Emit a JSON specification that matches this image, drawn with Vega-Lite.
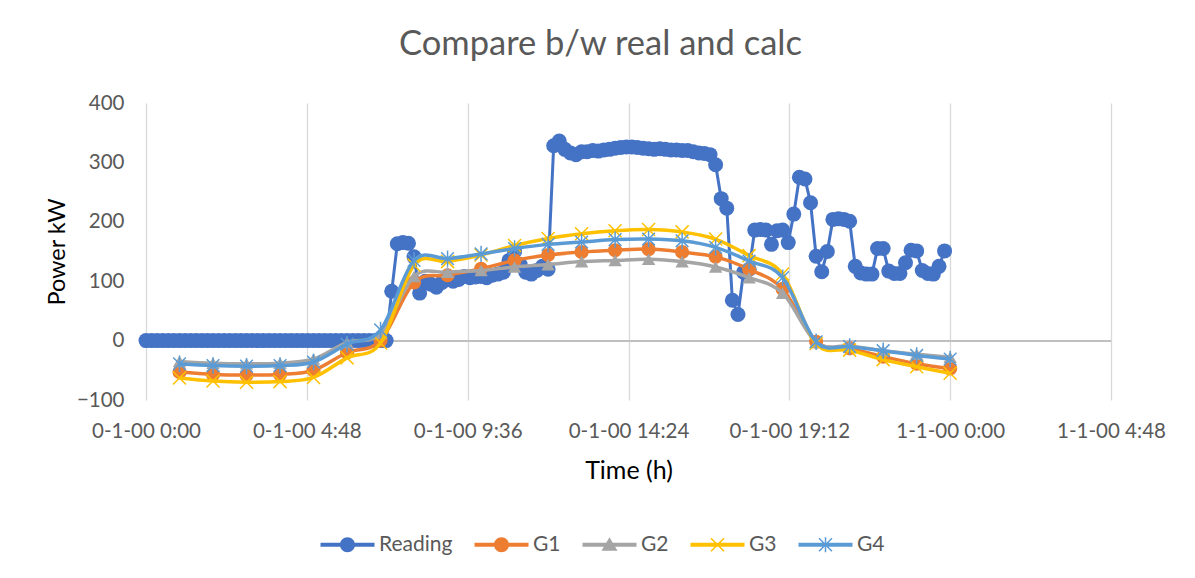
{
  "$schema": "https://vega.github.io/schema/vega-lite/v6.json",
  "width": 965,
  "height": 297,
  "autosize": "none",
  "padding": {"left": 146, "top": 103, "right": 84, "bottom": 178},
  "background": "white",
  "title": {"text": "Compare b/w real and calc", "fontSize": 34.5, "font": "Lato", "fontWeight": "normal", "color": "#595959", "anchor": "middle", "dx": -28, "offset": 4, "baseline": "alphabetic"},
  "config": {
    "view": {"stroke": null},
    "axis": {"labelFont": "Lato", "labelFontSize": 20.5, "labelColor": "#595959", "titleFont": "Lato", "titleColor": "#000000", "titleFontWeight": "normal", "gridColor": "#d9d9d9", "gridWidth": 1.3, "domain": false, "ticks": false, "tickSize": 0},
    "axisX": {"labelPadding": 21, "titlePadding": 17, "titleFontSize": 25},
    "axisY": {"labelPadding": 22, "titlePadding": 7, "titleFontSize": 23.5}
  },
  "datasets": {
    "reading": [
      {"t":0,"v":0},{"t":0.167,"v":0},{"t":0.333,"v":0},{"t":0.5,"v":0},{"t":0.667,"v":0},{"t":0.833,"v":0},
      {"t":1,"v":0},{"t":1.167,"v":0},{"t":1.333,"v":0},{"t":1.5,"v":0},{"t":1.667,"v":0},{"t":1.833,"v":0},
      {"t":2,"v":0},{"t":2.167,"v":0},{"t":2.333,"v":0},{"t":2.5,"v":0},{"t":2.667,"v":0},{"t":2.833,"v":0},
      {"t":3,"v":0},{"t":3.167,"v":0},{"t":3.333,"v":0},{"t":3.5,"v":0},{"t":3.667,"v":0},{"t":3.833,"v":0},
      {"t":4,"v":0},{"t":4.167,"v":0},{"t":4.333,"v":0},{"t":4.5,"v":0},{"t":4.667,"v":0},{"t":4.833,"v":0},
      {"t":5,"v":0},{"t":5.167,"v":0},{"t":5.333,"v":0},{"t":5.5,"v":0},{"t":5.667,"v":0},{"t":5.833,"v":0},
      {"t":6,"v":0},{"t":6.167,"v":0},{"t":6.333,"v":0},{"t":6.5,"v":0},{"t":6.667,"v":0},{"t":6.833,"v":0},
      {"t":7,"v":0},{"t":7.167,"v":0},{"t":7.333,"v":83},{"t":7.5,"v":163},{"t":7.667,"v":165},{"t":7.833,"v":164},
      {"t":8,"v":141},{"t":8.167,"v":80},{"t":8.333,"v":100},{"t":8.5,"v":95},{"t":8.667,"v":90},{"t":8.833,"v":98},
      {"t":9,"v":105},{"t":9.167,"v":100},{"t":9.333,"v":103},{"t":9.5,"v":108},{"t":9.667,"v":106},{"t":9.833,"v":107},
      {"t":10,"v":108},{"t":10.167,"v":106},{"t":10.333,"v":110},{"t":10.5,"v":112},{"t":10.667,"v":115},{"t":10.833,"v":135},
      {"t":11,"v":150},{"t":11.167,"v":128},{"t":11.333,"v":115},{"t":11.5,"v":112},{"t":11.667,"v":118},{"t":11.833,"v":125},
      {"t":12,"v":120},{"t":12.167,"v":328},{"t":12.333,"v":336},{"t":12.5,"v":322},{"t":12.667,"v":316},{"t":12.833,"v":313},
      {"t":13,"v":318},{"t":13.167,"v":318},{"t":13.333,"v":320},{"t":13.5,"v":319},{"t":13.667,"v":321},{"t":13.833,"v":322},
      {"t":14,"v":324},{"t":14.167,"v":325},{"t":14.333,"v":326},{"t":14.5,"v":326},{"t":14.667,"v":325},{"t":14.833,"v":324},
      {"t":15,"v":323},{"t":15.167,"v":322},{"t":15.333,"v":323},{"t":15.5,"v":322},{"t":15.667,"v":321},{"t":15.833,"v":321},
      {"t":16,"v":320},{"t":16.167,"v":320},{"t":16.333,"v":318},{"t":16.5,"v":316},{"t":16.667,"v":315},{"t":16.833,"v":313},
      {"t":17,"v":296},{"t":17.167,"v":239},{"t":17.333,"v":223},{"t":17.5,"v":68},{"t":17.667,"v":44},{"t":17.833,"v":115},
      {"t":18,"v":120},{"t":18.167,"v":186},{"t":18.333,"v":187},{"t":18.5,"v":186},{"t":18.667,"v":162},{"t":18.833,"v":185},
      {"t":19,"v":186},{"t":19.167,"v":165},{"t":19.333,"v":213},{"t":19.5,"v":275},{"t":19.667,"v":272},{"t":19.833,"v":232},
      {"t":20,"v":142},{"t":20.167,"v":116},{"t":20.333,"v":150},{"t":20.5,"v":204},{"t":20.667,"v":205},{"t":20.833,"v":204},
      {"t":21,"v":201},{"t":21.167,"v":125},{"t":21.333,"v":114},{"t":21.5,"v":112},{"t":21.667,"v":112},{"t":21.833,"v":155},
      {"t":22,"v":155},{"t":22.167,"v":117},{"t":22.333,"v":113},{"t":22.5,"v":113},{"t":22.667,"v":131},{"t":22.833,"v":152},
      {"t":23,"v":151},{"t":23.167,"v":118},{"t":23.333,"v":113},{"t":23.5,"v":112},{"t":23.667,"v":125},{"t":23.833,"v":151}
    ],
    "gen": [
      {"t":1,"G1":-53,"G2":-35,"G3":-63,"G4":-39},
      {"t":2,"G1":-57,"G2":-38,"G3":-68,"G4":-42},
      {"t":3,"G1":-58,"G2":-39,"G3":-70,"G4":-43},
      {"t":4,"G1":-57,"G2":-38,"G3":-69,"G4":-42},
      {"t":5,"G1":-50,"G2":-31,"G3":-62,"G4":-36},
      {"t":6,"G1":-20,"G2":-3,"G3":-29,"G4":-6},
      {"t":7,"G1":0,"G2":12,"G3":-4,"G4":18},
      {"t":8,"G1":98,"G2":108,"G3":127,"G4":135},
      {"t":9,"G1":110,"G2":115,"G3":133,"G4":138},
      {"t":10,"G1":121,"G2":118,"G3":144,"G4":146},
      {"t":11,"G1":135,"G2":124,"G3":160,"G4":155},
      {"t":12,"G1":144,"G2":128,"G3":172,"G4":162},
      {"t":13,"G1":149,"G2":133,"G3":180,"G4":166},
      {"t":14,"G1":152,"G2":135,"G3":185,"G4":170},
      {"t":15,"G1":154,"G2":137,"G3":187,"G4":171},
      {"t":16,"G1":149,"G2":133,"G3":183,"G4":168},
      {"t":17,"G1":141,"G2":124,"G3":171,"G4":157},
      {"t":18,"G1":120,"G2":106,"G3":143,"G4":134},
      {"t":19,"G1":87,"G2":80,"G3":112,"G4":106},
      {"t":20,"G1":-2,"G2":-3,"G3":-5,"G4":-2},
      {"t":21,"G1":-13,"G2":-9,"G3":-16,"G4":-10},
      {"t":22,"G1":-27,"G2":-17,"G3":-32,"G4":-17},
      {"t":23,"G1":-39,"G2":-23,"G3":-44,"G4":-25},
      {"t":24,"G1":-47,"G2":-28,"G3":-55,"G4":-31}
    ]
  },
  "layer": [
    {
      "data": {"name": "gen"},
      "mark": {"type": "rule", "color": "#bfbfbf", "strokeWidth": 1.3},
      "encoding": {"y": {"datum": 0, "type": "quantitative", "scale": {"domain": [-100, 400], "nice": false}}}
    },
    {
      "data": {"name": "reading"},
      "mark": {"type": "line", "color": "#4472C4", "strokeWidth": 3},
      "encoding": {
        "x": {"field": "t", "type": "quantitative", "title": "Time (h)", "scale": {"domain": [0, 28.8], "nice": false, "zero": false},
              "axis": {"values": [0, 4.8, 9.6, 14.4, 19.2, 24, 28.8], "labelExpr": "['0-1-00 0:00','0-1-00 4:48','0-1-00 9:36','0-1-00 14:24','0-1-00 19:12','1-1-00 0:00','1-1-00 4:48'][round(datum.value/4.8)]", "labelOverlap": false, "labelFlush": false}},
        "y": {"field": "v", "type": "quantitative", "title": "Power kW", "scale": {"domain": [-100, 400], "nice": false},
              "axis": {"values": [-100, 0, 100, 200, 300, 400]}}
      }
    },
    {
      "data": {"name": "reading"},
      "mark": {"type": "point", "shape": "circle", "filled": true, "color": "#4472C4", "size": 225, "opacity": 1},
      "encoding": {"x": {"field": "t", "type": "quantitative", "title": "Time (h)"}, "y": {"field": "v", "type": "quantitative", "title": "Power kW"}}
    },
    {
      "data": {"name": "gen"},
      "mark": {"type": "line", "interpolate": "cardinal", "color": "#ED7D31", "strokeWidth": 3.5},
      "encoding": {"x": {"field": "t", "type": "quantitative", "title": "Time (h)"}, "y": {"field": "G1", "type": "quantitative", "title": "Power kW"}}
    },
    {
      "data": {"name": "gen"},
      "mark": {"type": "point", "shape": "circle", "filled": true, "color": "#ED7D31", "size": 200, "opacity": 1},
      "encoding": {"x": {"field": "t", "type": "quantitative", "title": "Time (h)"}, "y": {"field": "G1", "type": "quantitative", "title": "Power kW"}}
    },
    {
      "data": {"name": "gen"},
      "mark": {"type": "line", "interpolate": "cardinal", "color": "#A5A5A5", "strokeWidth": 3.5},
      "encoding": {"x": {"field": "t", "type": "quantitative", "title": "Time (h)"}, "y": {"field": "G2", "type": "quantitative", "title": "Power kW"}}
    },
    {
      "data": {"name": "gen"},
      "mark": {"type": "point", "shape": "triangle-up", "filled": true, "color": "#A5A5A5", "size": 180, "opacity": 1},
      "encoding": {"x": {"field": "t", "type": "quantitative", "title": "Time (h)"}, "y": {"field": "G2", "type": "quantitative", "title": "Power kW"}}
    },
    {
      "data": {"name": "gen"},
      "mark": {"type": "line", "interpolate": "cardinal", "color": "#FFC000", "strokeWidth": 3.5},
      "encoding": {"x": {"field": "t", "type": "quantitative", "title": "Time (h)"}, "y": {"field": "G3", "type": "quantitative", "title": "Power kW"}}
    },
    {
      "data": {"name": "gen"},
      "mark": {"type": "point", "shape": "M-1,-1L1,1M1,-1L-1,1", "filled": false, "color": "#FFC000", "strokeWidth": 1.5, "size": 170, "opacity": 1},
      "encoding": {"x": {"field": "t", "type": "quantitative", "title": "Time (h)"}, "y": {"field": "G3", "type": "quantitative", "title": "Power kW"}}
    },
    {
      "data": {"name": "gen"},
      "mark": {"type": "line", "interpolate": "cardinal", "color": "#5B9BD5", "strokeWidth": 3.5},
      "encoding": {"x": {"field": "t", "type": "quantitative", "title": "Time (h)"}, "y": {"field": "G4", "type": "quantitative", "title": "Power kW"}}
    },
    {
      "data": {"name": "gen"},
      "mark": {"type": "point", "shape": "M-1,-1L1,1M1,-1L-1,1M0,-1.3L0,1.3", "filled": false, "color": "#5B9BD5", "strokeWidth": 1.5, "size": 160, "opacity": 1},
      "encoding": {"x": {"field": "t", "type": "quantitative", "title": "Time (h)"}, "y": {"field": "G4", "type": "quantitative", "title": "Power kW"}}
    },
    {
      "data": {"name": "gen"},
      "transform": [{"filter": "false"}],
      "mark": {"type": "point", "filled": true, "opacity": 1},
      "encoding": {
        "x": {"field": "t", "type": "quantitative", "title": "Time (h)"},
        "y": {"field": "G1", "type": "quantitative", "title": "Power kW"},
        "color": {"field": "s", "type": "nominal", "scale": {"domain": ["Reading", "G1", "G2", "G3", "G4"], "range": ["#4472C4", "#ED7D31", "#A5A5A5", "#FFC000", "#5B9BD5"]},
          "legend": {"orient": "none", "legendX": 191, "legendY": 431, "direction": "horizontal", "title": null, "padding": 0, "symbolSize": 100, "symbolStrokeWidth": 0, "symbolOpacity": 1, "labelFont": "Lato", "labelFontSize": 21, "labelColor": "#595959", "labelOffset": 21, "columnPadding": 21}},
        "shape": {"field": "s", "type": "nominal", "scale": {"domain": ["Reading", "G1", "G2", "G3", "G4"], "range": [
          "M-5.4,-0.4H5.4V0.4H-5.4Z M-1.5,0A1.5,1.5 0 1,1 1.5,0A1.5,1.5 0 1,1 -1.5,0Z",
          "M-5.4,-0.4H5.4V0.4H-5.4Z M-1.5,0A1.5,1.5 0 1,1 1.5,0A1.5,1.5 0 1,1 -1.5,0Z",
          "M-5.4,-0.4H5.4V0.4H-5.4Z M0,-1.5L1.6,1.2L-1.6,1.2Z",
          "M-5.4,-0.4H5.4V0.4H-5.4Z M-1.194,-1.406L1.406,1.194L1.194,1.406L-1.406,-1.194Z M1.406,-1.194L-1.194,1.406L-1.406,1.194L1.194,-1.406Z",
          "M-5.4,-0.4H5.4V0.4H-5.4Z M-1.194,-1.406L1.406,1.194L1.194,1.406L-1.406,-1.194Z M1.406,-1.194L-1.194,1.406L-1.406,1.194L1.194,-1.406Z M-0.15,-1.5H0.15V1.5H-0.15Z"
        ]},
          "legend": {"orient": "none", "legendX": 191, "legendY": 431, "direction": "horizontal", "title": null, "padding": 0, "symbolSize": 100, "symbolStrokeWidth": 0, "symbolOpacity": 1, "labelFont": "Lato", "labelFontSize": 21, "labelColor": "#595959", "labelOffset": 21, "columnPadding": 21}}
      }
    }
  ]
}
